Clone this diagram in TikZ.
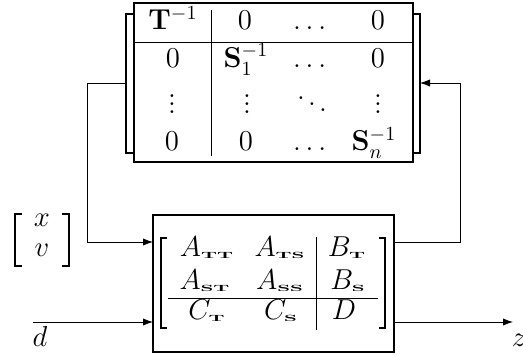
\documentclass[tikz,border=0pt]{standalone}
\usepackage{amsmath}
\usepackage{graphicx}
\usepackage{tikz}
\usetikzlibrary{arrows.meta}

\newcommand{\subsc}[1]{\raisebox{1.5pt}{\scalebox{1}[0.45]{\fontsize{10}{12}\selectfont\bfseries #1}}}

\begin{document}
\begin{tikzpicture}[x=0.5pt,y=-0.5pt, >={Latex[length=5pt,width=3.6pt]},
  entry/.style={anchor=base, inner sep=0pt, font=\fontsize{14.4}{17}\selectfont},
  brk/.style={line width=0.8pt}]
\useasboundingbox (0,0) rectangle (523,356);
% scaling block
\node[draw, line width=0.6pt, minimum width=139.5pt, minimum height=79.5pt, inner sep=0pt] (scal) at (273.5,82.5) {};
\draw (134,42) -- (413,42);
\draw (211,10) -- (211,156);
\draw[brk] (134,14) -- (126,14) -- (126,153) -- (134,153);
\draw[brk] (413,14) -- (420,14) -- (420,153) -- (413,153);
\node[entry] (s11) at (173,30) {$\mathbf{T}^{-1}$};
\node[entry] (s12) at (245,30) {$0$};
\node[entry] (s13) at (312,30) {$\dots$};
\node[entry] (s14) at (378,30) {$0$};
\node[entry] (s21) at (173,68) {$0$};
\node[entry] (s22) at (246,68) {$\mathbf{S}_1^{-1}$};
\node[entry] (s23) at (312,68) {$\dots$};
\node[entry] (s24) at (378,68) {$0$};
\node[entry] (s31) at (172,114) {$\vdots$};
\node[entry] (s32) at (247,114) {$\vdots$};
\node[entry] (s33) at (312,114) {$\ddots$};
\node[entry] (s34) at (378,114) {$\vdots$};
\node[entry] (s41) at (172,151) {$0$};
\node[entry] (s42) at (246,151) {$0$};
\node[entry] (s43) at (312,151) {$\dots$};
\node[entry] (s44) at (374,151) {$\mathbf{S}_n^{-1}$};
% plant block
\node[draw, line width=0.6pt, minimum width=120.5pt, minimum height=68.5pt, inner sep=0pt] (plant) at (273.5,283.5) {};
\draw[brk] (167,238) -- (161,238) -- (161,328) -- (167,328);
\draw[brk] (379,238) -- (385,238) -- (385,328) -- (379,328);
\draw (168,298) -- (378,298);
\draw (316,237) -- (316,330);
\node[entry] (p11) at (207,257) {$A_{\subsc{TT}}$};
\node[entry] (p12) at (280,257) {$A_{\subsc{TS}}$};
\node[entry] (p13) at (347,257) {$B_{\subsc{T}}$};
\node[entry] (p21) at (205,290) {$A_{\subsc{ST}}$};
\node[entry] (p22) at (280,290) {$A_{\subsc{SS}}$};
\node[entry] (p23) at (348,290) {$B_{\subsc{S}}$};
\node[entry] (p31) at (207,320) {$C_{\subsc{T}}$};
\node[entry] (p32) at (281,320) {$C_{\subsc{S}}$};
\node[entry] (p33) at (344,320) {$D$};
% state vector
\draw[brk] (22,214) -- (15,214) -- (15,266) -- (22,266);
\draw[brk] (62,214) -- (69,214) -- (69,266) -- (62,266);
\node[entry] (vx) at (42,227) {$x$};
\node[entry] (vv) at (42,257) {$v$};
% ports
\coordinate (sout) at (126,83);
\coordinate (sin) at (420,83);
\coordinate (pin) at (153,242);
\coordinate (pout) at (394,242);
\coordinate (din) at (153,322);
\coordinate (zout) at (394,322);
\coordinate (dsrc) at (33,322);
\coordinate (zend) at (513,322);
\node[entry] (dlab) at (40,347) {$d$};
\node[entry] (zlab) at (519,347) {$z$};
\draw[->] (sout) -- (87,83) |- (pin);
\draw[->] (pout) -- (460,242) |- (sin);
\draw[->] (dsrc) -- (din);
\draw[->] (zout) -- (zend);
\end{tikzpicture}
\end{document}
